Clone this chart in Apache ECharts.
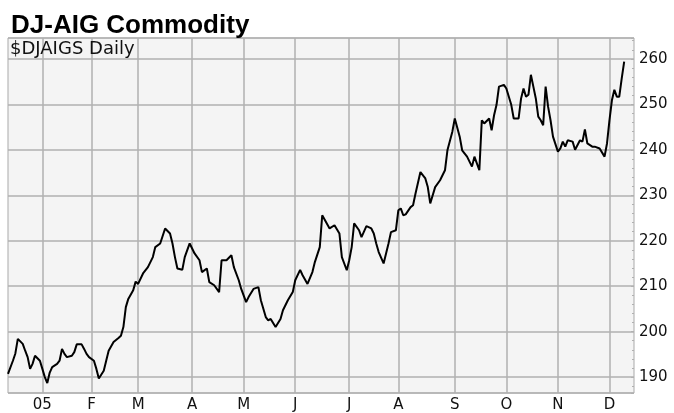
<!DOCTYPE html>
<html>
<head>
<meta charset="utf-8">
<script src="https://cdn.jsdelivr.net/npm/echarts@6/dist/echarts.min.js"></script>
<style>
html,body{margin:0;padding:0;background:#fff;}
#chart{width:674px;height:413px;}
</style>
</head>
<body>
<div id="chart"></div>
<script>
// ---- data ----
const firstDay = '2004-12-13';
const dayCount = 256;
const holidays = ['2004-12-24','2005-01-17','2005-02-21','2005-03-25','2005-05-30','2005-07-04','2005-09-05','2005-11-24'];
const monthLabels = ['05','F','M','A','M','J','J','A','S','O','N','D'];

// trading-day index of each reading
const dayIdx = [0,2,3,4,6,7,8,9,10,11,13,14,15,16,17,18,20,21,22,23,24,26,27,28,30,31,32,33,35,36,37,39,40,41,43,45,46,47,48,49,51,52,53,55,57,59,60,62,64,66,67,68,69,71,72,74,76,78,79,81,82,84,86,87,89,91,92,94,95,97,98,100,102,103,105,106,107,109,111,112,114,116,117,119,120,122,124,125,127,128,131,133,135,136,138,139,140,141,143,144,146,148,149,150,151,153,154,155,156,158,159,160,161,162,164,165,166,168,170,171,172,174,176,178,179,181,182,184,185,187,189,190,192,193,194,196,197,198,199,200,202,203,205,206,208,209,210,211,212,213,214,215,216,217,218,219,220,221,222,224,225,226,227,228,230,231,233,234,235,236,238,239,241,243,244,245,246,247,248,249,250,251];
// closing values
const closeVals = [190.7,193.6,195.2,198.4,197.3,195.8,194.4,191.8,192.9,194.7,193.6,191.8,190.0,188.7,191.0,192.2,192.9,193.6,196.2,195.1,194.4,194.7,195.5,197.2,197.2,196.2,195.1,194.4,193.6,191.8,189.7,191.4,193.6,195.8,197.7,198.6,199.1,201.0,205.4,207.2,209.1,211.0,210.5,212.8,214.2,216.4,218.6,219.4,222.7,221.6,219.4,216.4,213.9,213.6,216.4,219.4,217.2,215.7,213.1,213.9,210.9,210.2,208.7,215.7,215.7,216.8,214.2,211.3,209.4,206.5,207.6,209.4,209.8,206.9,203.2,202.5,202.8,201.0,202.8,204.7,206.9,208.7,211.3,213.6,212.4,210.5,213.1,215.3,218.6,225.6,222.7,223.4,221.6,216.4,213.5,215.7,218.6,223.8,222.3,220.8,223.2,222.7,221.6,219.4,217.5,215.0,217.2,219.4,221.9,222.3,226.7,227.1,225.6,225.8,227.4,227.8,230.4,235.1,233.7,231.8,228.2,231.8,233.3,235.5,239.9,244.0,246.9,242.9,239.9,238.5,236.3,238.5,235.5,246.5,245.8,246.9,244.3,247.6,249.9,253.9,254.3,253.5,249.9,246.9,246.9,251.3,253.5,251.7,252.1,256.5,253.9,251.3,247.3,246.5,245.4,253.9,249.5,246.5,242.9,239.6,240.3,241.8,240.7,242.1,241.8,240.0,242.1,241.8,244.5,241.4,240.7,240.7,240.3,238.5,241.4,246.5,250.9,253.2,251.7,251.7,255.7,259.4];

// ---- build trading-day categories ----
function buildDays(start, count, hol) {
  const out = [];
  const hs = new Set(hol);
  const d = new Date(start + 'T00:00:00Z');
  while (out.length < count) {
    const wd = d.getUTCDay();
    const s = d.toISOString().slice(0, 10);
    if (wd !== 0 && wd !== 6 && !hs.has(s)) out.push(s);
    d.setUTCDate(d.getUTCDate() + 1);
  }
  return out;
}
const categories = buildDays(firstDay, dayCount, holidays);
const monthStart = new Set();
for (let i = 1; i < categories.length; i++) {
  if (categories[i].slice(5, 7) !== categories[i - 1].slice(5, 7)) monthStart.add(i);
}
const seriesData = dayIdx.map((d, i) => [d, closeVals[i]]);

const chart = echarts.init(document.getElementById('chart'), null, {renderer: 'canvas'});
chart.setOption({
  animation: false,
  backgroundColor: '#ffffff',
  title: {
    text: 'DJ-AIG Commodity',
    left: 6, top: 8,
    textStyle: {fontFamily: 'Liberation Sans', fontWeight: 'bold', fontSize: 26, color: '#000'}
  },
  graphic: [{
    type: 'text', left: 10, top: 40, z: 100,
    style: {text: '$DJAIGS Daily', fontFamily: 'DejaVu Sans', fontSize: 18, fill: '#111'}
  }],
  grid: {
    left: 8, right: 40, top: 38, bottom: 20,
    show: true, backgroundColor: '#f4f4f4', borderColor: '#a9a9a9', borderWidth: 1
  },
  xAxis: {
    type: 'category',
    data: categories,
    boundaryGap: false,
    axisLine: {show: false},
    axisTick: {show: false},
    axisLabel: {
      interval: (i) => monthStart.has(i),
      formatter: (v) => monthLabels[parseInt(v.slice(5, 7), 10) - 1],
      fontFamily: 'DejaVu Sans', fontSize: 15, color: '#111', margin: 5
    },
    splitLine: {
      show: true,
      interval: (i) => monthStart.has(i),
      lineStyle: {color: '#b0b0b0', width: 1.5}
    }
  },
  yAxis: {
    type: 'value',
    position: 'right',
    min: 186.5, max: 264.6,
    splitNumber: 8,
    axisLine: {show: false},
    axisTick: {show: true, inside: true, length: 3, lineStyle: {color: '#b0b0b0'}},
    minorTick: {show: true, splitNumber: 5, length: 2, lineStyle: {color: '#b0b0b0'}},
    axisLabel: {
      formatter: (v) => (Math.abs(v % 10) < 1e-6 ? String(v) : ''),
      fontFamily: 'DejaVu Sans', fontSize: 15, color: '#111', margin: 5
    },
    splitLine: {show: true, lineStyle: {color: '#b0b0b0', width: 1.5}}
  },
  series: [{
    type: 'line',
    data: seriesData,
    showSymbol: false,
    symbol: 'none',
    lineStyle: {color: '#000', width: 2},
    z: 5
  }]
});
</script>
</body>
</html>
